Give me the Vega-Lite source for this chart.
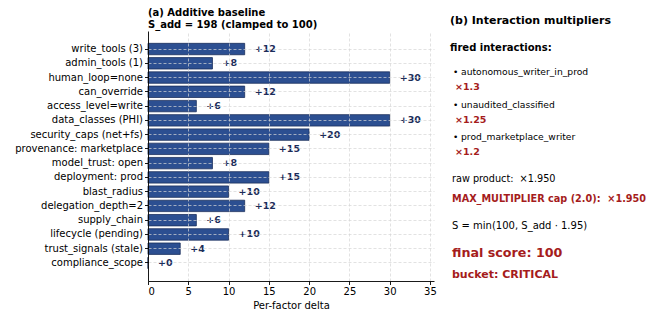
{
  "$schema": "https://vega.github.io/schema/vega-lite/v6.json",
  "padding": {"left": 14, "top": 8, "right": 0, "bottom": 0},
  "config": {
    "font": "DejaVu Sans",
    "view": {"stroke": null},
    "title": {"color": "#000000"},
    "axis": {"labelColor": "#000000", "titleColor": "#000000", "domainColor": "#000000", "tickColor": "#000000", "domainWidth": 0.9, "tickWidth": 0.9, "tickSize": 3.5, "labelPadding": 2, "labelFontSize": 10, "titleFontSize": 10, "titleFontWeight": "normal", "gridColor": "#d6d6d6", "gridDash": [3, 2], "gridWidth": 0.7}
  },
  "datasets": {
    "factors": [
      {"factor": "write_tools (3)", "delta": 12},
      {"factor": "admin_tools (1)", "delta": 8},
      {"factor": "human_loop=none", "delta": 30},
      {"factor": "can_override", "delta": 12},
      {"factor": "access_level=write", "delta": 6},
      {"factor": "data_classes (PHI)", "delta": 30},
      {"factor": "security_caps (net+fs)", "delta": 20},
      {"factor": "provenance: marketplace", "delta": 15},
      {"factor": "model_trust: open", "delta": 8},
      {"factor": "deployment: prod", "delta": 15},
      {"factor": "blast_radius", "delta": 10},
      {"factor": "delegation_depth=2", "delta": 12},
      {"factor": "supply_chain", "delta": 6},
      {"factor": "lifecycle (pending)", "delta": 10},
      {"factor": "trust_signals (stale)", "delta": 4},
      {"factor": "compliance_scope", "delta": 0}
    ],
    "interactions": [
      {"name": "autonomous_writer_in_prod", "multiplier": "×1.3"},
      {"name": "unaudited_classified", "multiplier": "×1.25"},
      {"name": "prod_marketplace_writer", "multiplier": "×1.2"}
    ],
    "summary": [
      {"kind": "raw", "line": "raw product: \u00a0×1.950"},
      {"kind": "cap", "line": "MAX_MULTIPLIER cap (2.0): \u00a0×1.950"},
      {"kind": "formula", "line": "S = min(100, S_add · 1.95)"},
      {"kind": "final", "line": "final score: 100"},
      {"kind": "bucket", "line": "bucket: CRITICAL"}
    ]
  },
  "bounds": "flush",
  "spacing": 16,
  "hconcat": [
    {
      "width": 286,
      "height": 250,
      "title": {"text": "(a) Additive baseline", "subtitle": "S_add = 198 (clamped to 100)", "anchor": "start", "frame": "group", "fontSize": 10, "fontWeight": "bold", "subtitleFontSize": 10, "subtitleFontWeight": "bold", "subtitleColor": "#000000", "subtitlePadding": 2, "offset": 1},
      "data": {"name": "factors"},
      "encoding": {
        "y": {"field": "factor", "type": "nominal", "sort": null,
          "scale": {"paddingInner": 0.2, "paddingOuter": 0.865},
          "axis": {"title": null, "grid": true, "bandPosition": 0.5, "zindex": 1}}
      },
      "layer": [
        {
          "mark": {"type": "bar", "color": "#2c4f91", "stroke": "#1a2f5c", "strokeWidth": 0.8},
          "encoding": {
            "x": {"field": "delta", "type": "quantitative", "scale": {"domain": [0, 35.5], "nice": false},
              "axis": {"title": "Per-factor delta", "values": [0, 5, 10, 15, 20, 25, 30, 35], "grid": true, "zindex": 1, "titlePadding": 4}}
          }
        },
        {
          "mark": {"type": "text", "align": "left", "dx": 10, "fontWeight": "bold", "fontSize": 9.5, "color": "#1c2d5a"},
          "encoding": {
            "x": {"field": "delta", "type": "quantitative"},
            "text": {"field": "delta", "type": "quantitative", "format": "+d"}
          }
        }
      ]
    },
    {
      "title": {"text": "(b) Interaction multipliers", "anchor": "start", "frame": "group", "fontSize": 11, "fontWeight": "bold", "offset": 5},
      "bounds": "flush",
      "spacing": 6,
      "vconcat": [
        {
          "width": 200,
          "height": 130,
          "title": {"text": "fired interactions:", "anchor": "start", "frame": "group", "fontSize": 10, "fontWeight": "bold", "offset": -22},
          "data": {"name": "interactions"},
          "encoding": {
            "y": {"field": "name", "type": "nominal", "sort": null, "scale": {"type": "point", "padding": 1, "align": 0.76}, "axis": null},
            "x": {"datum": 0, "type": "quantitative", "scale": {"domain": [0, 1]}, "axis": null}
          },
          "layer": [
            {
              "mark": {"type": "text", "text": "•", "align": "left", "dx": 3, "dy": -8, "fontSize": 9, "color": "#000000"}
            },
            {
              "mark": {"type": "text", "align": "left", "dx": 11, "dy": -8, "fontSize": 9.2, "color": "#000000"},
              "encoding": {"text": {"field": "name", "type": "nominal"}}
            },
            {
              "mark": {"type": "text", "align": "left", "dx": 5, "dy": 7, "fontSize": 9.5, "fontWeight": "bold", "color": "#a51c1c"},
              "encoding": {"text": {"field": "multiplier", "type": "nominal"}}
            }
          ]
        },
        {
          "width": 200,
          "height": 120,
          "data": {"name": "summary"},
          "encoding": {
            "y": {"field": "kind", "type": "nominal", "sort": ["raw", "cap", "formula", "final", "bucket"], "axis": null},
            "x": {"datum": 0, "type": "quantitative", "scale": {"domain": [0, 1]}, "axis": null},
            "text": {"field": "line", "type": "nominal"}
          },
          "layer": [
            {"transform": [{"filter": "datum.kind === 'raw'"}], "mark": {"type": "text", "align": "left", "dx": 2, "fontSize": 9.7, "color": "#000000"}},
            {"transform": [{"filter": "datum.kind === 'cap'"}], "mark": {"type": "text", "align": "left", "dx": 2, "dy": -4, "fontSize": 9.7, "fontWeight": "bold", "color": "#a51c1c"}},
            {"transform": [{"filter": "datum.kind === 'formula'"}], "mark": {"type": "text", "align": "left", "dx": 2, "dy": -1, "fontSize": 10, "color": "#000000"}},
            {"transform": [{"filter": "datum.kind === 'final'"}], "mark": {"type": "text", "align": "left", "dx": 2, "dy": 2, "fontSize": 12.7, "fontWeight": "bold", "color": "#a51c1c"}},
            {"transform": [{"filter": "datum.kind === 'bucket'"}], "mark": {"type": "text", "align": "left", "dx": 2, "fontSize": 11, "fontWeight": "bold", "color": "#a51c1c"}}
          ]
        }
      ]
    }
  ]
}
